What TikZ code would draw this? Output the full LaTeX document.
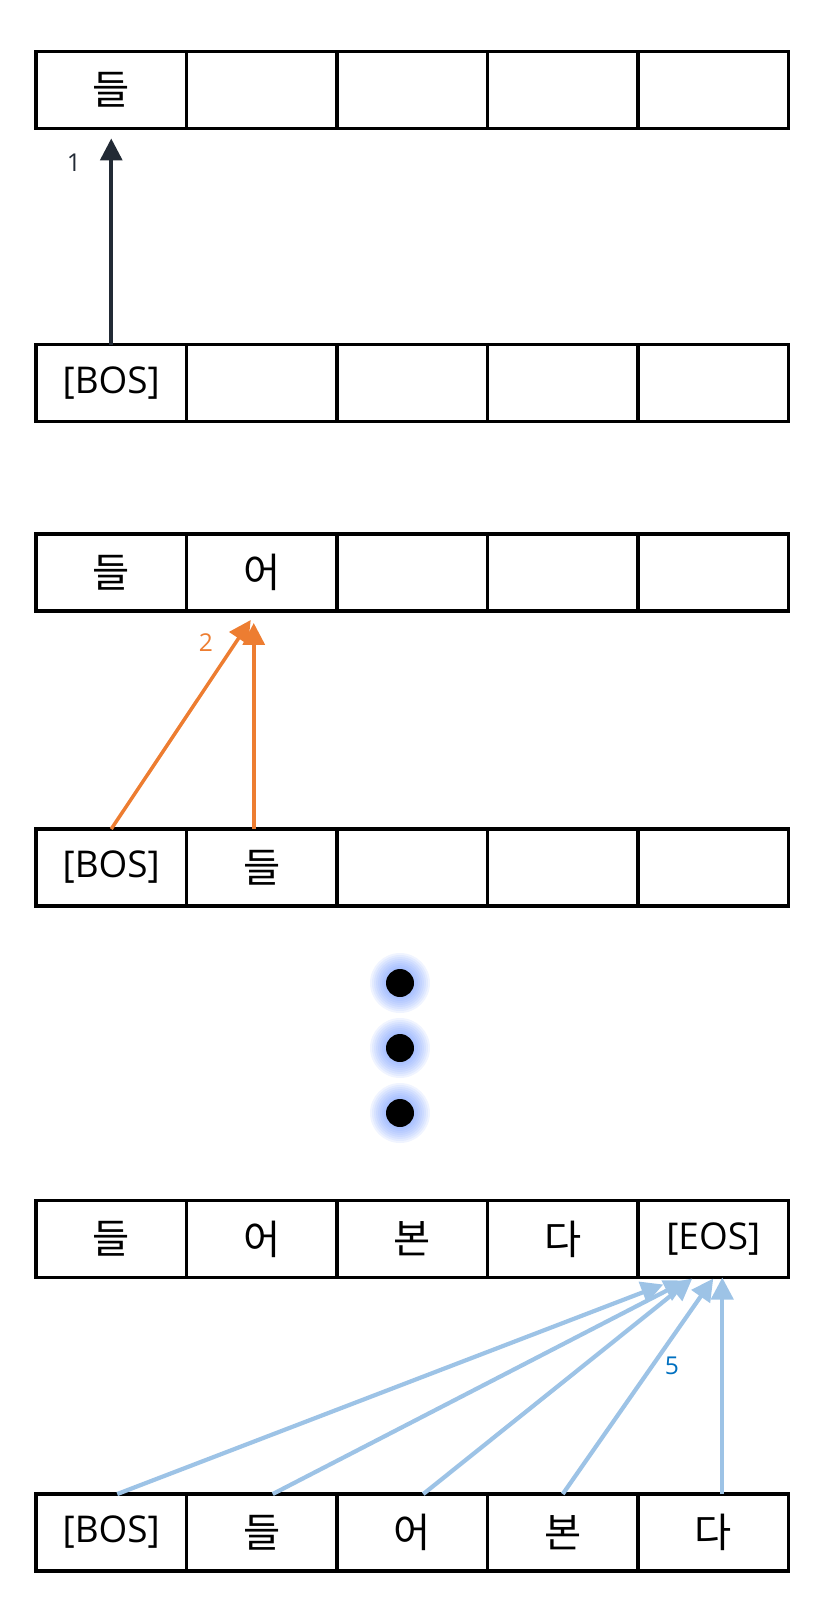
\documentclass[tikz,border=0pt]{standalone}
\usepackage{fontspec}
\setmainfont{Open Sans}
\newfontfamily\krfont{Noto Sans CJK KR}
\usepackage{tikz}
\usetikzlibrary{arrows.meta,calc}

\definecolor{stepone}{RGB}{34,42,53}
\definecolor{steptwo}{RGB}{237,125,49}
\definecolor{stepfive}{RGB}{157,195,230}
\definecolor{numfive}{RGB}{0,112,192}
\definecolor{glow}{RGB}{110,150,255}
\newcommand\kr{\krfont\fontsize{23}{27}\selectfont}

\begin{document}
\begin{tikzpicture}[x=0.02cm,y=-0.02cm,
      cell/.style={draw,line width=2.1pt,minimum width=3.01cm,minimum height=1.54cm,inner sep=0pt,outer sep=0pt,font=\fontsize{21}{25}\selectfont},
      arr/.style={line width=2pt,-{Triangle[length=0.44cm,width=0.44cm]}},
      num/.style={font=\fontsize{14}{17}\selectfont}]
    \useasboundingbox (0,0) rectangle (815,1600);
    % token rows
    \foreach \r/\ry/\cells in {1/90/{{\kr 들},{},{},{},{}},
                               2/383/{[BOS],{},{},{},{}},
                               3/572.5/{{\kr 들},{\kr 어},{},{},{}},
                               4/867.5/{[BOS],{\kr 들},{},{},{}},
                               5/1239/{{\kr 들},{\kr 어},{\kr 본},{\kr 다},[EOS]},
                               6/1532.5/{[BOS],{\kr 들},{\kr 어},{\kr 본},{\kr 다}}} {
      \foreach \t [count=\c] in \cells { \node[cell] (r\r c\c) at ({36+150.5*(\c-0.5)},\ry) {\t}; }
    }
    % step 1
    \draw[arr,stepone] (r2c1.north) -- ($(r1c1.south)+(0,10)$);
    \node[num,text=stepone] (n1) at (74,163) {1};
    % step 2
    \draw[arr,steptwo] (r4c1.north) -- ($(r3c2.south)+(-11,9)$);
    \draw[arr,steptwo] ($(r4c2.north)+(-8,0)$) -- ($(r3c2.south)+(-8,12)$);
    \node[num,text=steptwo] (n2) at (206,643) {2};
    % dots
    \foreach \dy [count=\k] in {983,1048,1113} {
      \foreach \gr in {30,28,26,24,22,20,18,16} \fill[glow,opacity=0.1] (400,\dy) circle[radius=\gr*0.02cm];
      \node[circle,fill=black,minimum size=0.56cm,inner sep=0pt] (dot\k) at (400,\dy) {};
    }
    % step 5
    \foreach \c/\sx/\ex/\ey in {1/6/-50/7,2/11/-27/3,3/11/-21/1,4/0/0/1,5/9/9/0}
      \draw[arr,stepfive,line width=2.4pt] ($(r6c\c.north)+(\sx,0)$) -- ($(r5c5.south)+(\ex,\ey)$);
    \node[num,text=numfive] (n5) at (672,1366) {5};
  \end{tikzpicture}
\end{document}
